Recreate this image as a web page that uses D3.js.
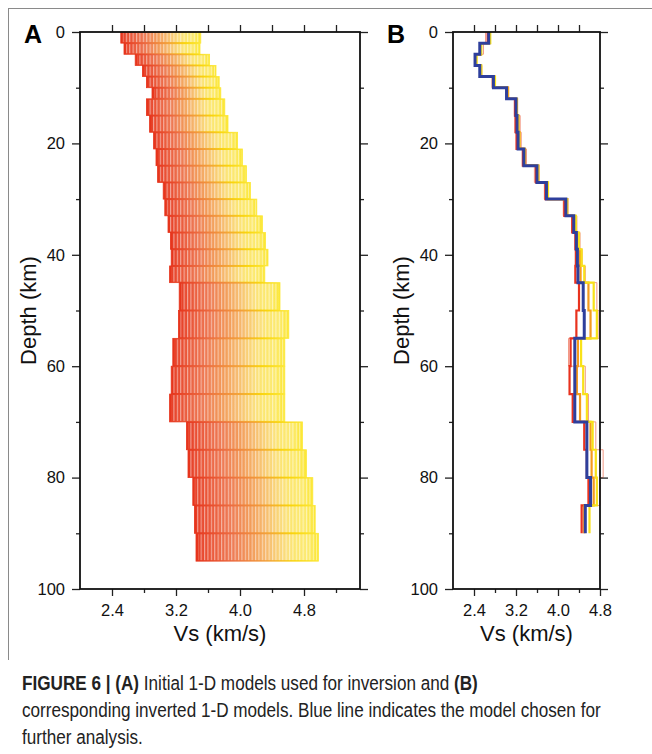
<!DOCTYPE html>
<html>
<head>
<meta charset="utf-8">
<script src="https://cdn.jsdelivr.net/npm/d3@7"></script>
<style>
    body { margin: 0; background: #fff; }
    svg text { font-family: "Liberation Sans", Arial, Helvetica, sans-serif; }
</style>
</head>
<body>
<div class="container"></div>
<script>
// Panel A: initial models, layer tops/bottoms (km) and the Vs range spanned in each layer (km/s)
var initLayerTop    = [0, 2, 4, 6, 8, 10, 12, 15, 18, 21, 24, 27, 30, 33, 36, 39, 42, 45, 50, 55, 60, 65, 70, 75, 80, 85, 90];
var initLayerBottom = [2, 4, 6, 8, 10, 12, 15, 18, 21, 24, 27, 30, 33, 36, 39, 42, 45, 50, 55, 60, 65, 70, 75, 80, 85, 90, 95];
var initVsMin = [2.51, 2.55, 2.69, 2.78, 2.83, 2.90, 2.83, 2.87, 2.92, 2.95, 2.97, 3.04, 3.06, 3.10, 3.13, 3.14, 3.12, 3.24, 3.23, 3.16, 3.14, 3.12, 3.33, 3.35, 3.41, 3.43, 3.45];
var initVsMax = [3.51, 3.50, 3.62, 3.70, 3.74, 3.76, 3.81, 3.85, 3.97, 4.03, 4.08, 4.13, 4.21, 4.28, 4.32, 4.35, 4.31, 4.50, 4.61, 4.56, 4.56, 4.56, 4.78, 4.83, 4.91, 4.94, 4.98];

// Panel B: inverted models (layer boundaries in km, Vs in km/s per layer)
var invDepths = [0, 2, 4, 6, 8, 10, 12, 15, 18, 21, 24, 27, 30, 33, 36, 39, 42, 45, 50, 55, 60, 65, 70, 75, 80, 85, 90];
var invChosen = [2.68, 2.51, 2.42, 2.51, 2.77, 3.02, 3.20, 3.22, 3.24, 3.35, 3.60, 3.78, 4.15, 4.30, 4.35, 4.37, 4.38, 4.48, 4.50, 4.32, 4.32, 4.32, 4.55, 4.55, 4.62, 4.52];
var invRed    = [2.66, 2.52, 2.43, 2.52, 2.79, 3.04, 3.18, 3.19, 3.21, 3.33, 3.58, 3.76, 4.12, 4.27, 4.33, 4.34, 4.33, 4.40, 4.35, 4.24, 4.22, 4.28, 4.50, 4.55, 4.58, 4.45];
var invOrange = [2.70, 2.53, 2.44, 2.53, 2.78, 3.05, 3.22, 3.25, 3.27, 3.37, 3.63, 3.80, 4.18, 4.33, 4.38, 4.42, 4.43, 4.58, 4.62, 4.38, 4.36, 4.42, 4.62, 4.64, 4.68, 4.50];
var invYellow = [2.71, 2.54, 2.45, 2.54, 2.80, 3.03, 3.21, 3.24, 3.26, 3.36, 3.62, 3.81, 4.17, 4.34, 4.40, 4.45, 4.50, 4.68, 4.74, 4.44, 4.48, 4.55, 4.66, 4.72, 4.74, 4.60];
var invPink   = [2.62, 2.58, 2.45, 2.55, 2.74, 3.00, 3.17, 3.28, 3.30, 3.40, 3.55, 3.74, 4.10, 4.36, 4.42, 4.46, 4.52, 4.74, 4.78, 4.20, 4.52, 4.58, 4.72, 4.86, 4.80, 4.48];

var depthMajor = [0, 20, 40, 60, 80, 100];
var depthMinor = [10, 30, 50, 70, 90];
var vsMajor = [2.4, 3.2, 4.0, 4.8];
var vsMinor = [2.8, 3.6, 4.4, 5.2];

var W = 652, H = 754;
var FONT = "'Liberation Sans', Arial, Helvetica, sans-serif";

document.addEventListener('DOMContentLoaded', function () {
    var svg = d3.select(".container")
        .append("svg")
        .attr("width", W)
        .attr("height", H);

    svg.append("rect").attr("width", W).attr("height", H).attr("fill", "#fff");

    // page frame
    svg.append("line").attr("x1", 8.5).attr("x2", 8.5).attr("y1", 8).attr("y2", 660)
        .attr("stroke", "#8a8a8a").attr("stroke-width", 1);
    svg.append("line").attr("x1", 8).attr("x2", W).attr("y1", 8.5).attr("y2", 8.5)
        .attr("stroke", "#8a8a8a").attr("stroke-width", 1);

    var defs = svg.append("defs");
    var grad = defs.append("linearGradient").attr("id", "redYellow");
    [["0%", "#e6331b"], ["30%", "#ec6b40"], ["58%", "#f3a038"], ["80%", "#f9d40a"], ["100%", "#fce838"]]
        .forEach(s => grad.append("stop").attr("offset", s[0]).attr("stop-color", s[1]));

    // white wash that makes the faster side of each block paler
    var wash = defs.append("linearGradient").attr("id", "wash");
    [["0%", 0.05], ["45%", 0.15], ["75%", 0.45], ["92%", 0.35], ["100%", 0.0]]
        .forEach(s => wash.append("stop").attr("offset", s[0]).attr("stop-color", "#fff").attr("stop-opacity", s[1]));

    var stripes = defs.append("pattern")
        .attr("id", "stripes")
        .attr("patternUnits", "userSpaceOnUse")
        .attr("width", 3.4)
        .attr("height", 10);
    stripes.append("rect").attr("width", 1.1).attr("height", 10).attr("fill", "#fff").attr("opacity", 0.5);

    var y = d3.scaleLinear().domain([0, 100]).range([32, 589]);

    function drawFrame(g, x) {
        var x0 = x.range()[0], x1 = x.range()[1];
        var left = d3.axisLeft(y).tickValues(depthMajor).tickSize(8).tickPadding(7);
        var leftMinor = d3.axisLeft(y).tickValues(depthMinor).tickSize(4).tickFormat("");
        var right = d3.axisRight(y).tickValues(depthMajor).tickSize(8).tickFormat("");
        var rightMinor = d3.axisRight(y).tickValues(depthMinor).tickSize(4).tickFormat("");
        var bottom = d3.axisBottom(x).tickValues(vsMajor).tickSize(7).tickPadding(8).tickFormat(d3.format(".1f"));
        var bottomMinor = d3.axisBottom(x).tickValues(vsMinor.filter(v => v < x.domain()[1])).tickSize(4).tickFormat("");
        var top = d3.axisTop(x).tickValues(vsMajor.concat(vsMinor).filter(v => v < x.domain()[1])).tickSize(7).tickFormat("");

        [[left, x0, 0], [leftMinor, x0, 0], [right, x1, 0], [rightMinor, x1, 0],
         [bottom, 0, 589], [bottomMinor, 0, 589], [top, 0, 32]].forEach(function (a) {
            var ax = g.append("g")
                .attr("transform", `translate(${a[1]}, ${a[2]})`)
                .call(a[0])
                .attr("font-family", FONT);
            ax.select(".domain").remove();
            ax.selectAll("line").attr("stroke", "#222").attr("stroke-width", 1.3);
            ax.selectAll("text").attr("fill", "#111").style("font-size", "16.5px");
        });

        g.append("rect")
            .attr("x", x0)
            .attr("y", 32)
            .attr("width", x1 - x0)
            .attr("height", 589 - 32)
            .attr("fill", "none")
            .attr("stroke", "#111")
            .attr("stroke-width", 1.8);

        g.append("text")
            .attr("transform", `translate(${x0 - 44}, ${(32 + 589) / 2}) rotate(-90)`)
            .attr("text-anchor", "middle")
            .style("font-size", "22px")
            .attr("fill", "#111")
            .text("Depth (km)");

        g.append("text")
            .attr("x", (x0 + x1) / 2)
            .attr("y", 641)
            .attr("text-anchor", "middle")
            .style("font-size", "22px")
            .attr("fill", "#111")
            .text("Vs (km/s)");
    }

    // ---- Panel A
    var xA = d3.scaleLinear().domain([2.0, 5.5]).range([80, 360]);
    var gA = svg.append("g");

    var layers = initLayerTop.map((t, i) => ({
        top: t, bottom: initLayerBottom[i], lo: initVsMin[i], hi: initVsMax[i]
    }));

    var blocks = gA.append("g")
        .selectAll("g")
        .data(layers)
        .enter()
        .append("g");

    blocks.append("rect")
        .attr("x", d => xA(d.lo))
        .attr("y", d => y(d.top))
        .attr("width", d => xA(d.hi) - xA(d.lo))
        .attr("height", d => y(d.bottom) - y(d.top))
        .attr("fill", "url(#redYellow)")
        .attr("stroke", "url(#redYellow)")
        .attr("stroke-width", 0.8);

    blocks.append("rect")
        .attr("x", d => xA(d.lo) + 2)
        .attr("y", d => y(d.top) + 1)
        .attr("width", d => xA(d.hi) - xA(d.lo) - 3)
        .attr("height", d => y(d.bottom) - y(d.top) - 2)
        .attr("fill", "url(#wash)");

    blocks.append("rect")
        .attr("x", d => xA(d.lo) + 2)
        .attr("y", d => y(d.top) + 1)
        .attr("width", d => xA(d.hi) - xA(d.lo) - 3)
        .attr("height", d => y(d.bottom) - y(d.top) - 2)
        .attr("fill", "url(#stripes)");

    drawFrame(gA, xA);

    // ---- Panel B
    var xB = d3.scaleLinear().domain([2.0, 4.8]).range([453, 600]);
    var gB = svg.append("g");

    function stepPoints(vs) {
        var pts = [];
        vs.forEach(function (v, i) {
            pts.push([v, invDepths[i]]);
            pts.push([v, invDepths[i + 1]]);
        });
        return pts;
    }

    var line = d3.line().x(d => xB(d[0])).y(d => y(d[1]));

    var models = [
        { vs: invPink, color: "#f29a86", width: 1.0 },
        { vs: invRed, color: "#e8321e", width: 2.2 },
        { vs: invOrange, color: "#f59b1e", width: 2.2 },
        { vs: invYellow, color: "#f8e21a", width: 2.2 },
        { vs: invChosen, color: "#2e3f9c", width: 3 }
    ];

    gB.append("g")
        .selectAll("path")
        .data(models)
        .enter()
        .append("path")
        .attr("d", d => line(stepPoints(d.vs)))
        .attr("fill", "none")
        .attr("stroke", d => d.color)
        .attr("stroke-width", d => d.width)
        .attr("stroke-linejoin", "miter");

    drawFrame(gB, xB);

    // panel letters
    svg.append("text").attr("x", 24).attr("y", 43).style("font-size", "25px").style("font-weight", "bold").text("A");
    svg.append("text").attr("x", 387).attr("y", 43).style("font-size", "25px").style("font-weight", "bold").text("B");

    // caption, squeezed horizontally to the narrow face used in the figure
    var capG = svg.append("g");
    var cap = capG.append("text")
        .attr("fill", "#222")
        .style("font-size", "20px");

    var capLines = [
        [["FIGURE 6 | ", true], ["(A)", true], [" Initial 1-D models used for inversion and ", false], ["(B)", true]],
        [["corresponding inverted 1-D models. Blue line indicates the model chosen for", false]],
        [["further analysis.", false]]
    ];
    capLines.forEach(function (parts, li) {
        parts.forEach(function (p, pi) {
            var ts = cap.append("tspan").text(p[0]).style("font-weight", p[1] ? "bold" : "normal");
            if (pi === 0) ts.attr("x", 0).attr("y", 690 + li * 27);
        });
    });
    var line2 = cap.selectAll("tspan").nodes()[4];
    var sx = 579 / line2.getComputedTextLength();
    capG.attr("transform", `translate(22, 0) scale(${sx}, 1)`);
});
</script>
</body>
</html>
